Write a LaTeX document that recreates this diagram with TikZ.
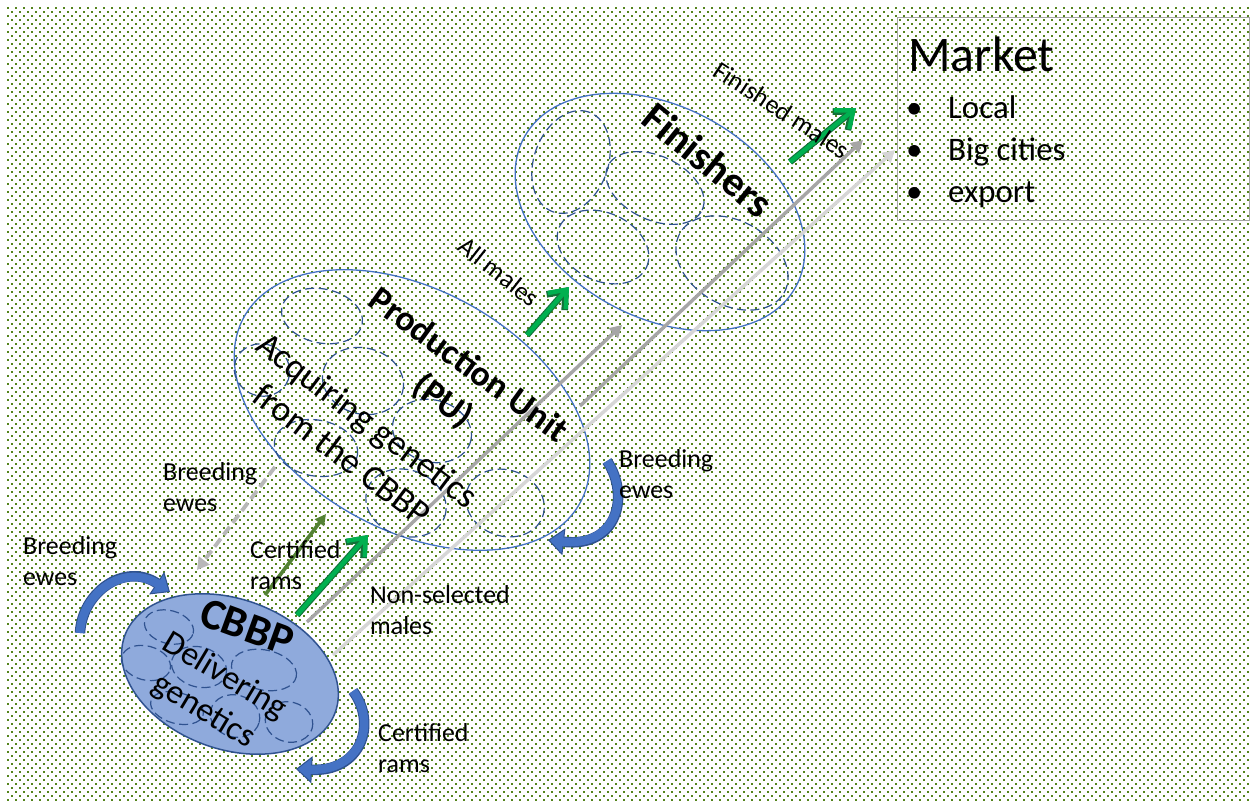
\documentclass[tikz,border=0pt]{standalone}
\usepackage{fontspec}
\setmainfont{Carlito}
\usetikzlibrary{shapes.geometric,arrows.meta}

\definecolor{dotgreen}{RGB}{84,132,28}
\definecolor{ringblue}{RGB}{68,114,196}
\definecolor{dashblue}{RGB}{47,82,143}
\definecolor{cbbpfill}{RGB}{143,170,220}
\definecolor{cbbpline}{RGB}{47,82,143}
\definecolor{flowgreen}{RGB}{0,176,80}
\definecolor{flowgreendark}{RGB}{18,112,56}
\definecolor{ramolive}{RGB}{84,130,53}
\definecolor{midgray}{RGB}{166,166,166}
\definecolor{palegray}{RGB}{214,214,214}
\definecolor{dashgray}{RGB}{184,184,184}
\definecolor{curlblue}{RGB}{68,114,196}
\definecolor{curldark}{RGB}{47,82,143}
\definecolor{boxgray}{RGB}{165,165,165}

% small dashed sub-flock ellipse: name, centre, width, height, angle
\newcommand{\subherd}[5]{\node[herd, minimum width=#3bp, minimum height=#4bp, rotate=#5] (#1) at (#2) {};}
% green flow arrow with darker rim
\newcommand{\greenflow}[2]{%
  \draw[draw=flowgreendark, line width=6.6bp, -{Straight Barb[length=15bp,width=24bp]}] (#1) -- (#2);
  \draw[draw=flowgreen, line width=4.4bp, -{Straight Barb[length=15bp,width=24bp]}] (#1) -- (#2);}
% curved blue return arrow
\newcommand{\curlarrow}[4]{%
  \draw[draw=curldark, line width=10.5bp, -{Triangle[length=16bp,width=27bp,line width=1bp,fill=curlblue]}] (#1) .. controls (#2) and (#3) .. (#4);
  \draw[draw=curlblue, line width=8.5bp, shorten >=13bp] (#1) .. controls (#2) and (#3) .. (#4);}
\newcommand{\twoline}[2]{\begin{tabular}[t]{@{}l@{}}#1\\#2\end{tabular}}

\begin{document}
\begin{tikzpicture}[x=1bp,y=-1bp,
  ring/.style={ellipse, draw=ringblue, line width=1.3bp, inner sep=0pt},
  herd/.style={ellipse, draw=dashblue, line width=1.2bp, dash pattern=on 9bp off 4.5bp, inner sep=0pt},
  tag/.style={font=\fontsize{26}{32}\selectfont, inner sep=0pt, anchor=base west},
  rtag/.style={font=\fontsize{26}{32}\selectfont, inner sep=0pt},
  grayflow/.style={line width=3.4bp, -{Triangle[length=12bp,width=13bp]}},
  dotrow/.style={draw=dotgreen, line width=2bp, dash pattern=on 2bp off 6bp},
  title/.style={font=\bfseries\fontsize{36}{44}\selectfont, align=center, inner sep=0pt},
  subtitle/.style={font=\fontsize{36}{43}\selectfont, align=center, inner sep=0pt}]

\useasboundingbox (0,0) rectangle (1250,801);
\fill[white] (0,0) rectangle (1250,801);
% dotted field texture: rows of 2x2 dots, every other row shifted by half a step
\foreach \i in {0,...,198}{
  \pgfmathsetmacro{\rowy}{8+4*\i}
  \pgfmathsetmacro{\rowx}{7+4*mod(\i,2)}
  \draw[dotrow] (\rowx,\rowy) -- (1252,\rowy);
}

% ---- CBBP nucleus ----
\node[ellipse, fill=cbbpfill, draw=cbbpline, line width=1.5bp, inner sep=0pt,
      minimum width=224bp, minimum height=150bp, rotate=-20] (cbbp) at (230,674) {};
\subherd{c1}{169,627}{50}{33}{-15}
\subherd{c2}{146,663}{50}{34}{-15}
\subherd{c3}{199,667}{56}{40}{-15}
\subherd{c4}{264,670}{66}{40}{-12}
\subherd{c5}{177,708}{54}{31}{-15}
\subherd{c6}{235,716}{50}{42}{-15}
\subherd{c7}{289,722}{48}{40}{-15}

% ---- Production units ----
\node[ring, minimum width=384bp, minimum height=240bp, rotate=-29] (pu) at (412,410) {};
\subherd{p1}{322,316}{82}{54}{-12}
\subherd{p2}{262,370}{56}{52}{-20}
\subherd{p3}{363,381}{82}{66}{-15}
\subherd{p4}{432,431}{80}{62}{-15}
\subherd{p5}{316,448}{84}{56}{-10}
\subherd{p6}{406,503}{82}{66}{-20}
\subherd{p7}{505,503}{80}{66}{-20}

% ---- Finishers ----
\node[ring, minimum width=310bp, minimum height=210bp, rotate=-29] (fin) at (660,212) {};
\subherd{f1}{571,162}{106}{74}{70}
\subherd{f2}{655,188}{104}{64}{-25}
\subherd{f3}{603,247}{96}{68}{-25}
\subherd{f4}{732,263}{120}{84}{-30}

% ---- flow end points ----
\coordinate (nsA) at (307,622);  \coordinate (nsAend) at (622,325);
\coordinate (nsB) at (333,655);  \coordinate (nsBend) at (895,150);
\coordinate (nsC) at (580,406);  \coordinate (nsCend) at (863,140);
\coordinate (crS) at (297,615);  \coordinate (crE) at (368,535);
\coordinate (amS) at (527,335);  \coordinate (amE) at (569,287);
\coordinate (fmS) at (790,162);  \coordinate (fmE) at (856,108);
\coordinate (olS) at (265,595);  \coordinate (olE) at (326,514);
\coordinate (beS) at (275,467);  \coordinate (beE) at (197,570);

% ---- gray flows of non-selected males ----
\draw[grayflow, draw=palegray] (nsB) -- (nsBend);
\draw[grayflow, draw=midgray] (nsA) -- (nsAend);
\draw[grayflow, draw=midgray] (nsC) -- (nsCend);

% ---- breeding ewes back to the nucleus ----
\draw[dashgray, line width=3.8bp, dash pattern=on 10bp off 5bp, -{Triangle[length=12bp,width=13bp]}] (beS) -- (beE);
% ---- certified rams ----
\draw[ramolive, line width=3.6bp, -{Triangle[length=11bp,width=11bp]}] (olS) -- (olE);
\greenflow{crS}{crE}
\greenflow{amS}{amE}
\greenflow{fmS}{fmE}

% ---- curved internal flows ----
\coordinate (kA) at (80,633);  \coordinate (kAend) at (170,592);
\coordinate (kB) at (607,461); \coordinate (kBend) at (548,540);
\coordinate (kC) at (353,691); \coordinate (kCend) at (296,769);
\curlarrow{kA}{82,592}{125,562}{kAend}
\curlarrow{kB}{630,495}{618,548}{kBend}
\curlarrow{kC}{378,725}{360,772}{kCend}

% ---- texts in the rings ----
\node[font=\bfseries\fontsize{44}{50}\selectfont, inner sep=0pt, rotate=-20] (cbbpname) at (247,627) {CBBP};
\node[subtitle, font=\fontsize{34}{41}\selectfont, rotate=-31] (cbbprole) at (214,694) {Delivering\\genetics};
\node[title, rotate=-36] (puname) at (455,384) {Production Unit\\(PU)};
\node[subtitle, rotate=-37] (purole) at (355,437) {Acquiring genetics\\from the CBBP};
\node[title, font=\bfseries\fontsize{42}{50}\selectfont, rotate=-39] (finname) at (708,160) {Finishers};

% ---- flow labels ----
\node[tag] (ewesleft) at (23,554) {\twoline{Breeding}{ewes}};
\node[tag] (ewesmid) at (163,480) {\twoline{Breeding}{ewes}};
\node[tag] (ewesright) at (619,467) {\twoline{Breeding}{ewes}};
\node[tag] (ramsmid) at (250,558) {\twoline{Certified}{rams}};
\node[tag] (ramslow) at (378,741) {\twoline{Certified}{rams}};
\node[tag] (nonsel) at (370,603) {\twoline{Non-selected}{males}};
\node[rtag, rotate=-38] (allmales) at (499,272) {All males};
\node[rtag, rotate=-33] (finmales) at (782,110) {Finished males};

% ---- market ----
\node[draw=boxgray, line width=1.4bp, inner sep=0pt, anchor=north west,
      minimum width=352bp, minimum height=203bp] (marketbox) at (897,17) {};
\node[font=\fontsize{50}{60}\selectfont, inner sep=0pt, anchor=base west] (markettitle) at (908,72) {Market};
\node[font=\fontsize{33}{42}\selectfont, inner sep=0pt, anchor=base west] (marketlist) at (906,119)
  {\begin{tabular}[t]{@{}p{42bp}@{}l@{}}•&Local\\•&Big cities\\•&export\end{tabular}};
\end{tikzpicture}
\end{document}
